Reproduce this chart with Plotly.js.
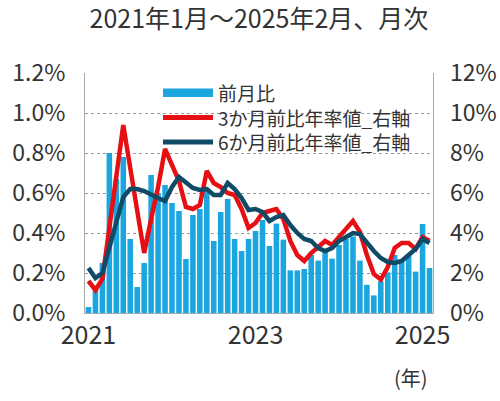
<!DOCTYPE html>
<html>
<head>
<meta charset="utf-8">
<script src="https://cdn.plot.ly/plotly-3.0.1.min.js"></script>
<style>
  html, body { margin: 0; padding: 0; background: #fff; }
  #chart { width: 500px; height: 401px; }
</style>
</head>
<body>
<div id="chart"></div>
<script>
// 2021年1月～2025年2月 (50か月)
const months = [];
for (let y = 2021; y <= 2025; y++) {
    for (let m = 1; m <= 12; m++) {
        if (y === 2025 && m > 2) break;
        months.push(y + "-" + String(m).padStart(2, "0"));
    }
}

// 前月比 (%, 左軸)
const momChange = [
    0.03, 0.12, 0.25, 0.80, 0.67, 0.78, 0.37, 0.13, 0.25, 0.69,
    0.60, 0.64, 0.55, 0.51, 0.27, 0.49, 0.52, 0.62, 0.36, 0.505,
    0.57, 0.37, 0.31, 0.37, 0.41, 0.465, 0.335, 0.447, 0.367, 0.213,
    0.213, 0.22, 0.29, 0.262, 0.31, 0.272, 0.34, 0.37, 0.383, 0.262,
    0.141, 0.088, 0.158, 0.203, 0.29, 0.26, 0.285, 0.207, 0.445, 0.225
];

// 3か月前比年率値 (%, 右軸)
const annual3m = [
    1.6, 1.15, 1.7, 4.3, 6.9, 9.4, 7.25, 5.2, 3.0, 4.7,
    6.3, 8.2, 7.4, 6.6, 5.3, 5.2, 5.4, 7.1, 6.5, 6.3,
    6.0, 5.9, 5.2, 4.25, 4.5, 5.0, 5.1, 5.2, 4.7, 3.6,
    2.9, 2.6, 3.0, 3.3, 3.6, 3.4, 3.8, 4.15, 4.6, 4.05,
    2.9, 1.95, 1.67, 2.3, 3.25, 3.5, 3.5, 3.2, 3.8, 3.6
];

// 6か月前比年率値 (%, 右軸)
const annual6m = [
    2.25, 1.75, 2.0, 3.3, 4.5, 5.8, 6.2, 6.2, 6.1, 5.9,
    5.75, 5.6, 6.3, 6.8, 6.5, 6.25, 6.15, 6.2, 5.9, 5.9,
    6.5, 6.2, 5.75, 5.15, 5.2, 5.05, 4.6, 4.8, 4.9, 4.4,
    4.0, 3.7, 3.6, 3.25, 3.1, 3.25, 3.6, 3.8, 4.0, 3.95,
    3.5, 3.1, 2.75, 2.55, 2.5, 2.6, 2.9, 3.2, 3.7, 3.5
];

const yearTicks = ["2021-01", "2023-01", "2025-01"];
const yearLabels = ["2021", "2023", "2025"];

const names = ["前月比", "3か月前比年率値_右軸", "6か月前比年率値_右軸"];
const colors = ["#1ba6e0", "#e60f14", "#0f4a66"];

const xIdx = months.map((m, i) => i);
const tickIdx = yearTicks.map(t => months.indexOf(t));

const font = '"Noto Sans CJK JP", "Noto Sans", sans-serif';
const margin = { l: 85, r: 67, t: 73, b: 88 };
const plotW = 500 - margin.l - margin.r;
const plotH = 401 - margin.t - margin.b;
// pixel -> paper helpers, used for the hand-built legend only
const px = x => (x - margin.l) / plotW;
const py = y => (401 - margin.b - y) / plotH;

const traces = [
    {
        x: xIdx, y: momChange, type: "bar", name: names[0],
        marker: { color: colors[0] }, yaxis: "y"
    },
    {
        x: xIdx, y: annual3m, type: "scatter", mode: "lines", name: names[1],
        line: { color: colors[1], width: 4.5 }, yaxis: "y2"
    },
    {
        x: xIdx, y: annual6m, type: "scatter", mode: "lines", name: names[2],
        line: { color: colors[2], width: 4.5 }, yaxis: "y2"
    }
];

// legend drawn by hand: wide band for bars, thick lines for the rates.
// one multi-line text so the rows sit tight like the original
const legendSize = 19;
const rowGap = legendSize * 1.3;
const legendTop = 92.7;
const legendWidths = [8.5, 5, 5];
const shapes = names.map((n, i) => ({
    type: "line", xref: "paper", yref: "paper",
    x0: px(163), x1: px(213),
    y0: py(legendTop + i * rowGap), y1: py(legendTop + i * rowGap),
    line: { color: colors[i], width: legendWidths[i] }
}));
const annotations = [
    {
        text: names.join("<br>"), xref: "paper", yref: "paper",
        x: px(216), y: py(legendTop + rowGap),
        xanchor: "left", yanchor: "middle", align: "left", showarrow: false,
        font: { size: legendSize, color: "#333" }
    },
    {
        text: "(年)", xref: "paper", yref: "paper", x: px(411), y: py(377),
        xanchor: "center", yanchor: "middle", showarrow: false,
        font: { size: 20, color: "#333" }
    }
];

const layout = {
    width: 500, height: 401,
    margin: margin,
    paper_bgcolor: "#fff", plot_bgcolor: "#fff",
    font: { family: font, color: "#333", size: 22 },
    showlegend: false,
    title: {
        text: "2021年1月～2025年2月、月次",
        font: { family: font, size: 25, color: "#333" },
        x: 0.5, xref: "paper", y: 0.953, yref: "container", yanchor: "middle"
    },
    bargap: 0.2,
    xaxis: {
        range: [-0.5, months.length - 0.5],
        tickvals: tickIdx, ticktext: yearLabels,
        ticks: "", showgrid: false, zeroline: false,
        showline: true, linecolor: "#aaa", linewidth: 1,
        tickfont: { size: 25 }, fixedrange: true
    },
    yaxis: {
        range: [0, 1.2], dtick: 0.2, tickformat: ".1f", ticksuffix: "%",
        showgrid: true, gridcolor: "#999", griddash: "dot", gridwidth: 1,
        zeroline: false, showline: true, mirror: true, linecolor: "#aaa", linewidth: 1,
        ticks: "", ticklabelstandoff: 14, tickfont: { size: 23 }
    },
    yaxis2: {
        range: [0, 12], dtick: 2, ticksuffix: "%", overlaying: "y", side: "right",
        showgrid: false, zeroline: false, ticks: "", ticklabelstandoff: 16,
        tickfont: { size: 23 }
    },
    shapes: shapes,
    annotations: annotations
};

Plotly.newPlot("chart", traces, layout, { staticPlot: true });
</script>
</body>
</html>
